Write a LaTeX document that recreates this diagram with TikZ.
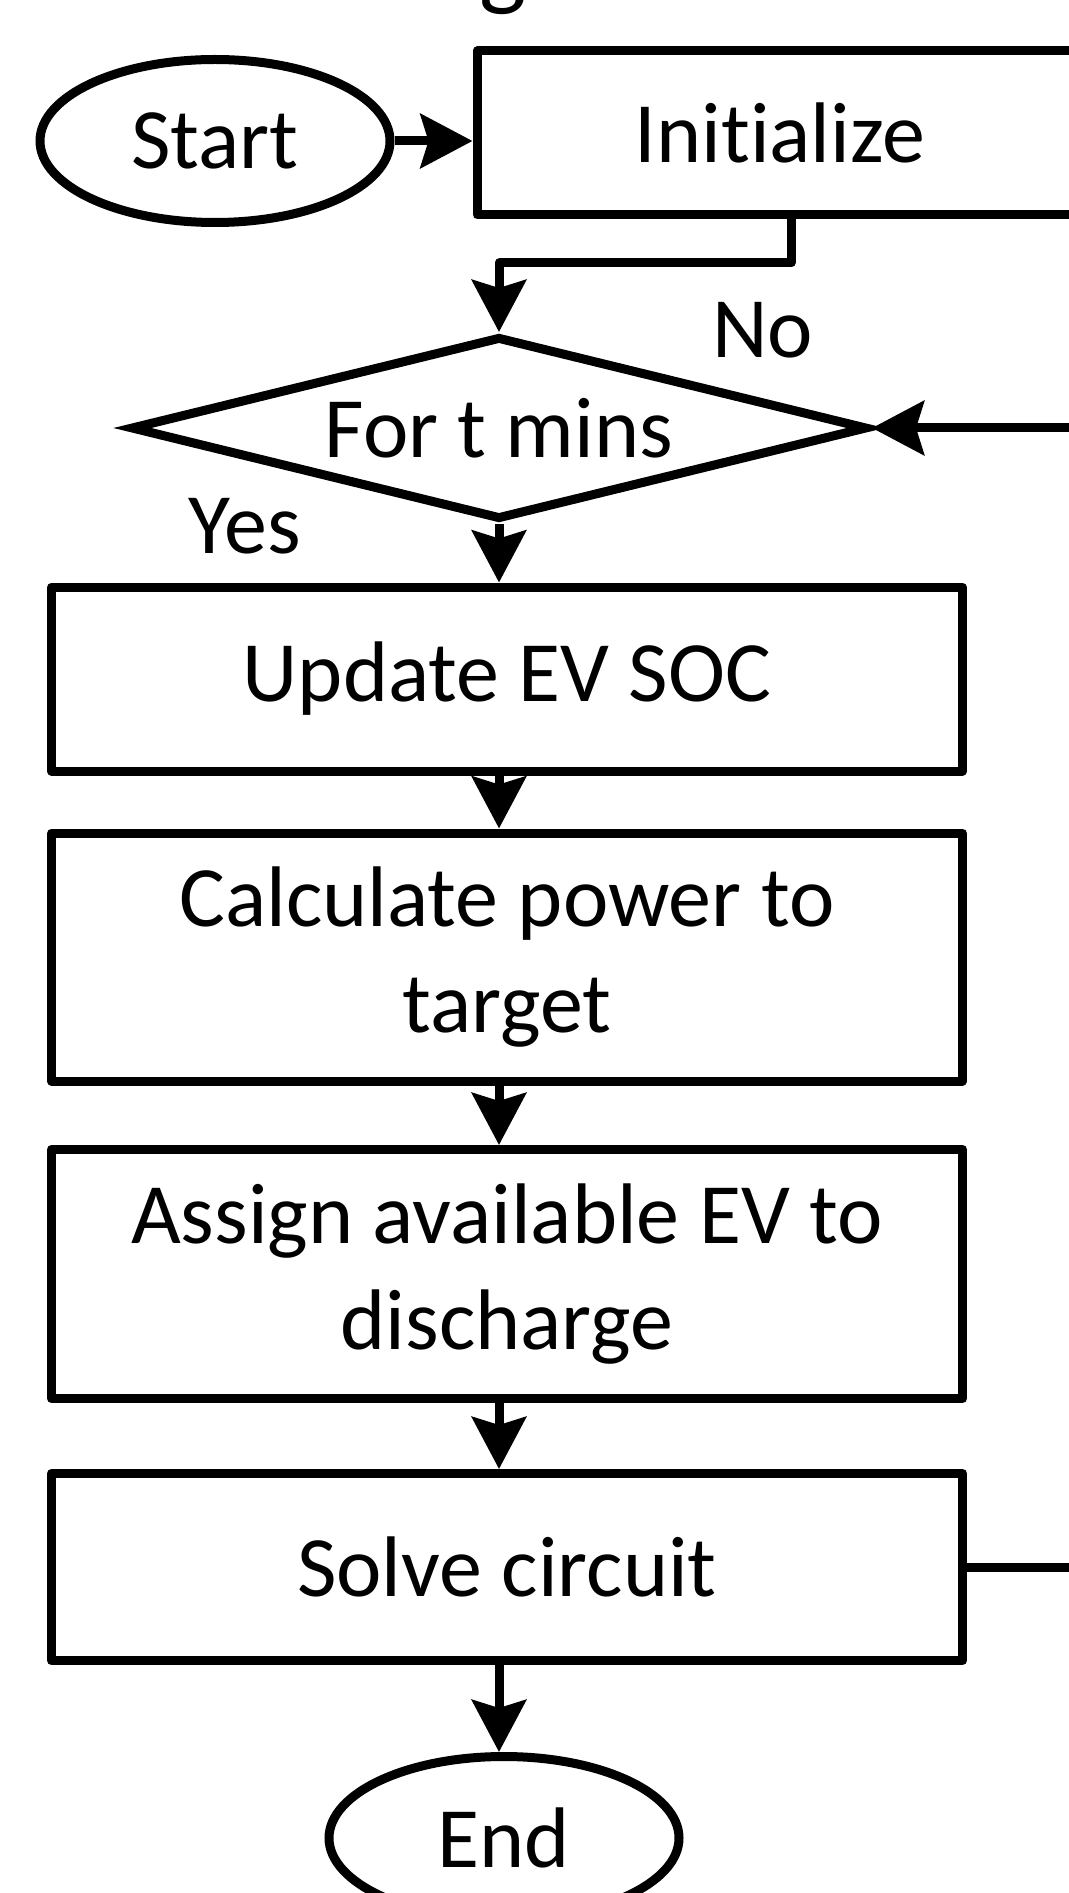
\documentclass[tikz,border=0pt]{standalone}
\usepackage{fontspec}
\setmainfont{Carlito}[Ligatures=NoCommon]
\usetikzlibrary{shapes.geometric, arrows.meta}

\tikzset{
  txt/.style={font=\fontsize{43pt}{53pt}\selectfont},
  proc/.style={txt, draw, line width=4.5pt, line join=round, align=center,
    inner sep=0pt, minimum width=455.5pt},
  term/.style={txt, draw, ellipse, line width=4.5pt, inner sep=0pt,
    minimum width=175pt, minimum height=81.5pt},
  decide/.style={txt, draw, diamond, aspect=4, line width=4.5pt, inner sep=0pt,
    minimum width=368.5pt, minimum height=91.5pt},
  flow/.style={line width=4.5pt, -{Stealth[length=26pt, width=27pt, inset=4pt]}},
}

\begin{document}
\begin{tikzpicture}[x=0.5pt, y=-0.5pt]
  \useasboundingbox (0,0) rectangle (1069,1893);
  \clip (0,0) rectangle (1069,1893);

  % title line, only its tail reaches into the frame
  \node[font=\fontsize{50pt}{60pt}\selectfont, anchor=base] (ttl) at (503,-2) {g};

  % start and initialisation
  \node[term] (start) at (215,141) {Start};
  \node[proc, minimum width=303pt, minimum height=82pt] (init) at (780,133) {Initialize};

  % time loop test
  \node[decide] (dec) at (499,428) {For t mins};

  % main steps
  \node[proc, minimum height=92pt]    (upd)    at (507,679)  {Update EV SOC};
  \node[proc, minimum height=124pt]   (calc)   at (507,957)  {Calculate power to\\target};
  \node[proc, minimum height=124.5pt] (assign) at (507,1274) {Assign available EV to\\discharge};
  \node[proc, minimum height=93.5pt]  (solve)  at (507,1567) {Solve circuit};
  \node[term] (stop) at (504,1838) {End};

  % branch labels
  \node[txt, anchor=base west, inner sep=0pt] (no)  at (712,358) {No};
  \node[txt, anchor=base west, inner sep=0pt] (yes) at (188,553) {Yes};

  % connectors
  \draw[flow] (start.east) -- (start.east -| init.west);
  \coordinate (knee) at (791,263);
  \draw[flow, line join=round] (knee |- init.south) -- (knee) -| (dec.north);
  \foreach \a/\b in {dec/upd, upd/calc, calc/assign, assign/solve, solve/stop}
    \draw[flow] (\a.south -| dec.south) -- (\b.north -| dec.south);

  % back to the test after each step
  \coordinate (back) at (1110,1567);
  \draw[flow] (solve.east) -- (back) |- (dec.east);
\end{tikzpicture}
\end{document}
